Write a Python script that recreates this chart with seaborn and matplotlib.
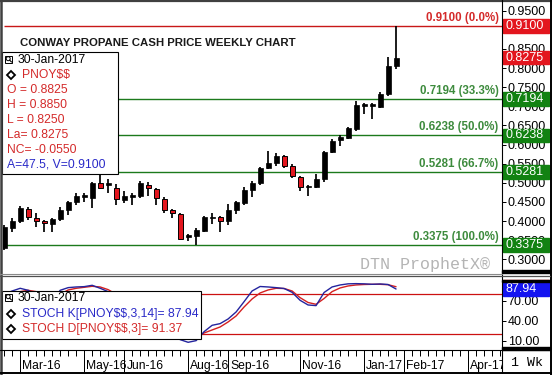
import numpy as np
import pandas as pd
import matplotlib
matplotlib.use("Agg")
import matplotlib.pyplot as plt
import matplotlib.transforms as mtransforms
from matplotlib.patches import Rectangle, Circle
from matplotlib.lines import Line2D
import seaborn as sns

# ---------------- data ----------------
last_date = "2017-01-30"
opens = [0.330, 0.381, 0.400, 0.432, 0.407, 0.400, 0.392, 0.405, 0.429, 0.449,
         0.464, 0.460, 0.499, 0.495, 0.487, 0.456, 0.463, 0.466, 0.494, 0.483,
         0.457, 0.429, 0.418, 0.359, 0.361, 0.375, 0.407, 0.410, 0.399, 0.429,
         0.448, 0.481, 0.500, 0.539, 0.553, 0.570, 0.544, 0.516, 0.488, 0.490,
         0.509, 0.581, 0.612, 0.618, 0.640, 0.702, 0.701, 0.699, 0.732, 0.805]
highs = [0.390, 0.407, 0.439, 0.436, 0.420, 0.404, 0.407, 0.438, 0.452, 0.474,
         0.473, 0.503, 0.525, 0.509, 0.496, 0.478, 0.473, 0.505, 0.501, 0.487,
         0.462, 0.432, 0.422, 0.366, 0.381, 0.414, 0.420, 0.413, 0.444, 0.452,
         0.490, 0.505, 0.542, 0.584, 0.579, 0.573, 0.549, 0.519, 0.495, 0.522,
         0.583, 0.614, 0.625, 0.647, 0.714, 0.708, 0.708, 0.738, 0.830, 0.910]
lows = [0.325, 0.372, 0.396, 0.403, 0.385, 0.372, 0.372, 0.401, 0.416, 0.442,
        0.449, 0.433, 0.483, 0.473, 0.442, 0.447, 0.442, 0.461, 0.466, 0.442,
        0.422, 0.409, 0.351, 0.349, 0.3375, 0.372, 0.392, 0.372, 0.390, 0.418,
        0.442, 0.462, 0.494, 0.535, 0.544, 0.538, 0.512, 0.479, 0.466, 0.486,
        0.503, 0.577, 0.596, 0.614, 0.636, 0.679, 0.666, 0.695, 0.727, 0.797]
closes = [0.385, 0.400, 0.435, 0.411, 0.400, 0.394, 0.405, 0.429, 0.449, 0.466,
          0.465, 0.500, 0.486, 0.496, 0.457, 0.465, 0.464, 0.499, 0.486, 0.460,
          0.429, 0.420, 0.353, 0.360, 0.377, 0.410, 0.408, 0.399, 0.429, 0.449,
          0.481, 0.500, 0.540, 0.553, 0.570, 0.544, 0.518, 0.488, 0.489, 0.509,
          0.581, 0.610, 0.619, 0.643, 0.703, 0.703, 0.702, 0.732, 0.805, 0.8275]
stoch_k = [80, 85, 89, 86, 79, 72, 70, 86, 90, 91,
           91.5, 93.5, 89, 84, 75, 65, 58, 55, 50, 40,
           30, 22, 12, 8, 10.5, 24, 33.5, 36, 43, 53.5,
           69, 85, 91.7, 91, 90, 88.7, 83, 71, 64, 63,
           82.7, 91, 94, 95.7, 96, 95.7, 95, 95.5, 94.7, 87.94]
stoch_d = [78, 80, 84, 86, 84, 79, 74, 80, 86.5, 89,
           90.5, 92, 91, 87, 80, 72, 65, 59, 54, 48,
           40, 32, 24, 18, 15, 22, 26.5, 31, 38.5, 47.5,
           61, 73, 82, 86.5, 89, 88.7, 85, 75, 67.7, 65,
           73.7, 84, 89.5, 92.5, 94, 94.7, 95, 95, 94.4, 91.37]
fib_levels = [0.9100, 0.7194, 0.6238, 0.5281, 0.3375]
fib_pcts = ["0.0%", "33.3%", "50.0%", "66.7%", "100.0%"]
month_labels = ["Mar-16", "May-16", "Jun-16", "Aug-16", "Sep-16",
                "Nov-16", "Jan-17", "Feb-17", "Apr-17"]
price_ticks = [0.30, 0.35, 0.40, 0.45, 0.50, 0.55, 0.60, 0.65, 0.70, 0.75,
               0.80, 0.85, 0.90, 0.95]
stoch_ticks = [10, 40, 70]
title = "CONWAY PROPANE CASH PRICE WEEKLY CHART"
legend_lines = ["O = 0.8825", "H = 0.8850", "L = 0.8250", "La= 0.8275", "NC= -0.0550"]
legend_av = "A=47.5, V=0.9100"

# ---------------- style ----------------
sns.set_style("white")
plt.rcParams["font.family"] = ["Liberation Sans", "DejaVu Sans"]
plt.rcParams["text.parse_math"] = False

RED_TXT = "#d42a2a"
BLUE_TXT = "#2a2ac8"
GREEN_LINE = "#1c7a1c"
GREEN_TXT = "#3d8b3d"
GREEN_BOX = "#128212"
RED_LINE = "#c81818"
RED_BOX = "#e3161e"

W, H = 552, 375
fig = plt.figure(figsize=(W / 100, H / 100), dpi=100)
fig.patch.set_facecolor("white")

def fx(px):
    return px / W

def fy(py):
    return 1 - py / H

ax_main = fig.add_axes([fx(3), fy(273), fx(502) - fx(3), fy(3) - fy(273)])
ax_stoch = fig.add_axes([fx(3), fy(349), fx(502) - fx(3), fy(277) - fy(349)])
ax_dates = fig.add_axes([fx(3), fy(372), fx(502) - fx(3), fy(350) - fy(372)])
ax_ov = fig.add_axes([0, 0, 1, 1], zorder=10)
ax_ov.set_xlim(0, W)
ax_ov.set_ylim(H, 0)
ax_ov.axis("off")
ax_ov.patch.set_alpha(0)

dates = pd.date_range(end=last_date, periods=len(closes), freq="W-MON")
x = np.arange(len(dates))
o = np.array(opens); h = np.array(highs); l = np.array(lows); c = np.array(closes)

XL = (-0.15, 62.25)
for a in (ax_main, ax_stoch, ax_dates):
    a.set_xlim(*XL)
    for s in a.spines.values():
        s.set_visible(False)
    a.set_xticks([])

# ---------------- main price panel ----------------
ax_main.set_ylim(0.2642, 0.9701)
ax_main.vlines(x, l, h, color="black", lw=1.25, zorder=2)
up = c >= o
bottom = np.minimum(o, c)
height = np.maximum(np.abs(c - o), 0.004)
ax_main.bar(x[up], height[up], bottom=bottom[up], width=0.62, color="black",
            edgecolor="black", lw=0.5, zorder=3)
ax_main.bar(x[~up], height[~up], bottom=bottom[~up], width=0.62, color=RED_BOX,
            edgecolor="black", lw=0.7, zorder=3)

start = x[int(np.argmin(l))]
for lv, pc in zip(fib_levels, fib_pcts):
    col_line = RED_LINE if pc == "0.0%" else GREEN_LINE
    col_txt = RED_TXT if pc == "0.0%" else GREEN_TXT
    ax_main.hlines(lv, start, XL[1], colors=col_line, lw=1.0, zorder=1)
    ax_main.annotate(f"{lv:.4f} ({pc})", xy=(1, lv), xycoords=("axes fraction", "data"),
                     xytext=(-2.5, 5.8), textcoords="offset points", ha="right",
                     va="center", fontsize=8.3, fontweight="bold", color=col_txt)

ax_main.yaxis.tick_right()
ax_main.set_yticks(price_ticks)
ax_main.set_yticklabels([f"{t:.4f}" for t in price_ticks])
ax_main.tick_params(axis="y", direction="out", length=3, width=0.72, pad=1.2,
                    labelsize=9, colors="black", right=True, left=False)

trans_m = mtransforms.blended_transform_factory(fig.transFigure, ax_main.transData)
ppu_m = 270 / (0.9701 - 0.2642)
boxes_m = [(max(highs), RED_BOX), (closes[-1], RED_BOX)] + \
          [(lv, GREEN_BOX) for lv in fib_levels[1:]]
for v, col in boxes_m:
    hh = 6.8 / ppu_m
    ax_main.add_patch(Rectangle((fx(503), v - hh), fx(549) - fx(503), 2 * hh,
                                transform=trans_m, color=col, clip_on=False, zorder=5))
    ax_main.text(fx(505.5), v, f"{v:.4f}", transform=trans_m, color="white",
                 ha="left", va="center", fontsize=9, clip_on=False, zorder=6)

# ---------------- stochastic panel ----------------
S_LO, S_HI = -2.05, 105.95
ax_stoch.set_ylim(S_LO, S_HI)
ax_stoch.axhline(80, color="#cc1111", lw=0.9, zorder=1)
ax_stoch.axhline(20, color="#cc1111", lw=0.9, zorder=1)
sns.lineplot(x=x, y=stoch_d, ax=ax_stoch, color="#d42020", lw=1.0, zorder=2)
sns.lineplot(x=x, y=stoch_k, ax=ax_stoch, color="#24249e", lw=1.0, zorder=3)
ax_stoch.set_xlabel("")
ax_stoch.set_ylabel("")
ax_stoch.set_xticks([])
ax_stoch.yaxis.tick_right()
ax_stoch.set_yticks(stoch_ticks)
ax_stoch.set_yticklabels([f"{t:.2f}" for t in stoch_ticks])
ax_stoch.tick_params(axis="y", direction="out", length=3, width=0.72, pad=1.2,
                     labelsize=9, colors="black", right=True, left=False)
trans_s = mtransforms.blended_transform_factory(fig.transFigure, ax_stoch.transData)
ppu_s = 72 / (S_HI - S_LO)
for v, col, show in [(stoch_d[-1], RED_BOX, False), (stoch_k[-1], "#1414f0", True)]:
    hh = 6.8 / ppu_s
    ax_stoch.add_patch(Rectangle((fx(503), v - hh), fx(549) - fx(503), 2 * hh,
                                 transform=trans_s, color=col, clip_on=False, zorder=5))
    if show:
        ax_stoch.text(fx(505.5), v, f"{v:.2f}", transform=trans_s, color="white",
                      ha="left", va="center", fontsize=9, clip_on=False, zorder=6)

# ---------------- date row ----------------
ax_dates.set_ylim(1, 0)
ax_dates.set_yticks([])
ext = pd.date_range(start=dates[0], periods=64, freq="W-MON")
ax_dates.vlines(np.arange(len(ext)), 0, 0.28, color="black", lw=0.72)
for lab in month_labels:
    m = pd.to_datetime("01-" + lab, format="%d-%b-%y")
    idx = np.where((ext.year == m.year) & (ext.month == m.month))[0][0]
    ax_dates.vlines(idx, 0, 1, color="black", lw=0.72)
    ax_dates.text(idx + 0.28, 0.72, lab, ha="left", va="center", fontsize=8.7,
                  color="black", clip_on=True)

# ---------------- overlay: frame, legends, texts ----------------
def line(x0, y0, x1, y1, color="black", lw=0.75):
    ax_ov.add_line(Line2D([x0, x1], [y0, y1], color=color, lw=lw))

line(0, 1.2, W, 1.2, "#404040", 1.6)
line(1.2, 0, 1.2, H, "#404040", 1.8)
line(550.5, 0, 550.5, H, "black", 1.4)
line(0, 373, W, 373, "black", 1.4)
line(502, 0, 502, 373, "black", 0.8)
line(0, 274.2, 502, 274.2, "#8a8a8a", 0.8)
line(0, 276.4, 550, 276.4, "#505050", 0.9)
line(0, 350, 550, 350, "black", 0.8)
ax_ov.add_patch(Rectangle((502, 270), 48, 3, color="black"))
ax_ov.add_patch(Rectangle((502, 346.5), 48, 3, color="black"))
ax_ov.add_patch(Rectangle((502, 280), 48, 2, color="black"))

ax_ov.text(20, 43, title, fontsize=8.2, fontweight="bold", color="#1a1a1a",
           ha="left", va="center")
ax_ov.text(360, 264.5, "DTN ProphetX\u00ae", family=["Liberation Mono", "DejaVu Sans Mono"],
           fontsize=12, color="#b4b4b4", ha="left", va="center")
ax_ov.text(527, 362.5, "1 Wk", family=["Liberation Mono", "DejaVu Sans Mono"],
           fontsize=9.5, color="black", ha="center", va="center")

def icon(x0, y0):
    ax_ov.add_patch(Rectangle((x0, y0), 7, 7, fc="white", ec="black", lw=0.7))
    ax_ov.add_patch(Circle((x0 + 3.2, y0 + 3.2), 2.0, fc="none", ec="black", lw=0.7))
    line(x0 + 4.6, y0 + 4.6, x0 + 6.5, y0 + 6.5, "black", 0.8)

def diamond(x0, y0):
    ax_ov.plot([x0], [y0], marker="D", ms=4.2, mfc="white", mec="black", mew=1.3)

# main legend
ax_ov.add_patch(Rectangle((2, 52), 116, 122, fc="white", ec="black", lw=0.8))
icon(5, 55.5)
ax_ov.text(18, 60, dates[-1].strftime("%d-%b-%Y"), fontsize=8.7, color="black",
           ha="left", va="center")
diamond(11, 75)
ax_ov.text(22, 75, "PNOY$$", fontsize=8.7, color=RED_TXT, ha="left", va="center")
for k, t in enumerate(legend_lines):
    ax_ov.text(7, 90 + 15 * k, t, fontsize=8.7, color=RED_TXT, ha="left", va="center")
ax_ov.text(7, 164.5, legend_av, fontsize=8.7, color=BLUE_TXT, ha="left", va="center")

# stoch legend
ax_ov.add_patch(Rectangle((2, 291), 199, 48, fc="white", ec="black", lw=0.8))
icon(5, 293.5)
ax_ov.text(18, 298, dates[-1].strftime("%d-%b-%Y"), fontsize=8.7, color="black",
           ha="left", va="center")
diamond(11, 314.3)
ax_ov.text(22.5, 314.3, f"STOCH K[PNOY$$,3,14]= {stoch_k[-1]:.2f}", fontsize=8.7,
           color=BLUE_TXT, ha="left", va="center")
diamond(11, 328.7)
ax_ov.text(22.5, 328.7, f"STOCH D[PNOY$$,3]= {stoch_d[-1]:.2f}", fontsize=8.7,
           color=RED_TXT, ha="left", va="center")

fig.savefig("out.png", dpi=100, facecolor="white")
